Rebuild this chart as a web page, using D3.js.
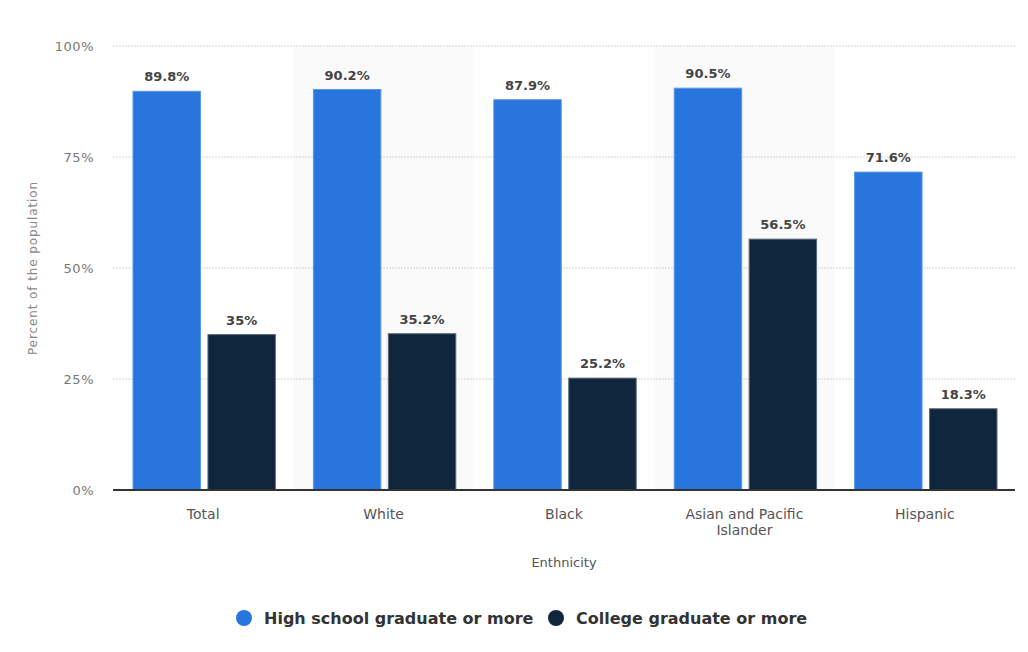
<!DOCTYPE html>
<html>
<head>
<meta charset="utf-8">
<script src="https://cdn.jsdelivr.net/npm/d3@7"></script>
<style>
  body { margin: 0; background: #fff; }
  text { font-family: "DejaVu Sans", sans-serif; }
</style>
</head>
<body>
<svg id="chart" width="1028" height="652"></svg>
<script>
const categories = ["Total", "White", "Black", "Asian and Pacific Islander", "Hispanic"];
const categoryLines = [["Total"], ["White"], ["Black"], ["Asian and Pacific", "Islander"], ["Hispanic"]];
const seriesNames = ["High school graduate or more", "College graduate or more"];
const highSchool = [89.8, 90.2, 87.9, 90.5, 71.6];
const college = [35, 35.2, 25.2, 56.5, 18.3];
const yTicks = [0, 25, 50, 75, 100];
const colors = ["#2876dd", "#10263d"];

const svg = d3.select("#chart");
const margin = { left: 113, right: 13, top: 46, bottom: 162 };
const width = 1028, height = 652;

const x = d3.scaleBand()
  .domain(categories)
  .range([margin.left, width - margin.right]);

const xInner = d3.scaleBand()
  .domain(seriesNames)
  .range([20, x.bandwidth() - 18])
  .paddingInner(0.1);

const y = d3.scaleLinear()
  .domain([0, 100])
  .range([height - margin.bottom, margin.top]);

// alternate band shading
svg.selectAll(".band")
  .data(categories.filter((d, i) => i % 2 === 1))
  .enter()
  .append("rect")
  .attr("x", d => x(d))
  .attr("y", y(100))
  .attr("width", x.bandwidth())
  .attr("height", y(0) - y(100))
  .attr("fill", "#fafafa");

// gridlines
svg.selectAll(".grid")
  .data(yTicks.filter(d => d > 0))
  .enter()
  .append("line")
  .attr("x1", margin.left)
  .attr("x2", width - margin.right)
  .attr("y1", d => y(d))
  .attr("y2", d => y(d))
  .attr("stroke", "#d4d4d4")
  .attr("stroke-dasharray", "2,1");

// y tick labels
svg.selectAll(".ytick")
  .data(yTicks)
  .enter()
  .append("text")
  .attr("x", 94)
  .attr("y", d => y(d) + 5)
  .attr("text-anchor", "end")
  .attr("fill", "#777")
  .style("font-size", "13px")
  .style("letter-spacing", "0.5px")
  .text(d => d + "%");

// bars
const rows = categories.map((c, i) => [
  { cat: c, s: seriesNames[0], v: highSchool[i], k: 0 },
  { cat: c, s: seriesNames[1], v: college[i], k: 1 }
]).flat();

svg.selectAll(".bar")
  .data(rows)
  .enter()
  .append("rect")
  .attr("x", d => x(d.cat) + xInner(d.s))
  .attr("y", d => y(d.v))
  .attr("width", xInner.bandwidth())
  .attr("height", d => y(0) - y(d.v))
  .attr("fill", d => colors[d.k])
  .attr("stroke", d => d.k === 0 ? "#5a98e8" : "#5c6a78")
  .attr("stroke-width", 1);

// value labels
svg.selectAll(".val")
  .data(rows)
  .enter()
  .append("text")
  .attr("x", d => x(d.cat) + xInner(d.s) + xInner.bandwidth() / 2)
  .attr("y", d => y(d.v) - 10)
  .attr("text-anchor", "middle")
  .attr("fill", "#444")
  .style("font-size", "13px")
  .style("font-weight", "bold")
  .text(d => d.v + "%");

// x axis line
svg.append("line")
  .attr("x1", margin.left)
  .attr("x2", width - margin.right)
  .attr("y1", y(0))
  .attr("y2", y(0))
  .attr("stroke", "#333")
  .attr("stroke-width", 2);

// category labels
const catLabels = svg.selectAll(".cat")
  .data(categories)
  .enter()
  .append("text")
  .attr("x", d => x(d) + x.bandwidth() / 2)
  .attr("y", y(0) + 29)
  .attr("text-anchor", "middle")
  .attr("fill", "#555")
  .style("font-size", "14px");

catLabels.selectAll("tspan")
  .data((d, i) => categoryLines[i])
  .enter()
  .append("tspan")
  .attr("x", function () { return d3.select(this.parentNode).attr("x"); })
  .attr("dy", (d, i) => i === 0 ? 0 : 16)
  .text(d => d);

// axis titles
svg.append("text")
  .attr("transform", `translate(37, ${(y(0) + y(100)) / 2}) rotate(-90)`)
  .attr("text-anchor", "middle")
  .attr("fill", "#888")
  .style("font-size", "12px")
  .style("letter-spacing", "0.9px")
  .text("Percent of the population");

svg.append("text")
  .attr("x", (margin.left + width - margin.right) / 2)
  .attr("y", 567)
  .attr("text-anchor", "middle")
  .attr("fill", "#555")
  .style("font-size", "13px")
  .text("Enthnicity");

// legend
const legendX = [244, 556];
const legend = svg.selectAll(".legend")
  .data(seriesNames)
  .enter()
  .append("g")
  .attr("transform", (d, i) => `translate(${legendX[i]}, 618)`);

legend.append("circle")
  .attr("r", 8)
  .attr("fill", (d, i) => colors[i]);

legend.append("text")
  .attr("x", 20)
  .attr("y", 6)
  .attr("fill", "#333")
  .style("font-size", "16px")
  .style("font-weight", "bold")
  .text(d => d);
</script>
</body>
</html>
